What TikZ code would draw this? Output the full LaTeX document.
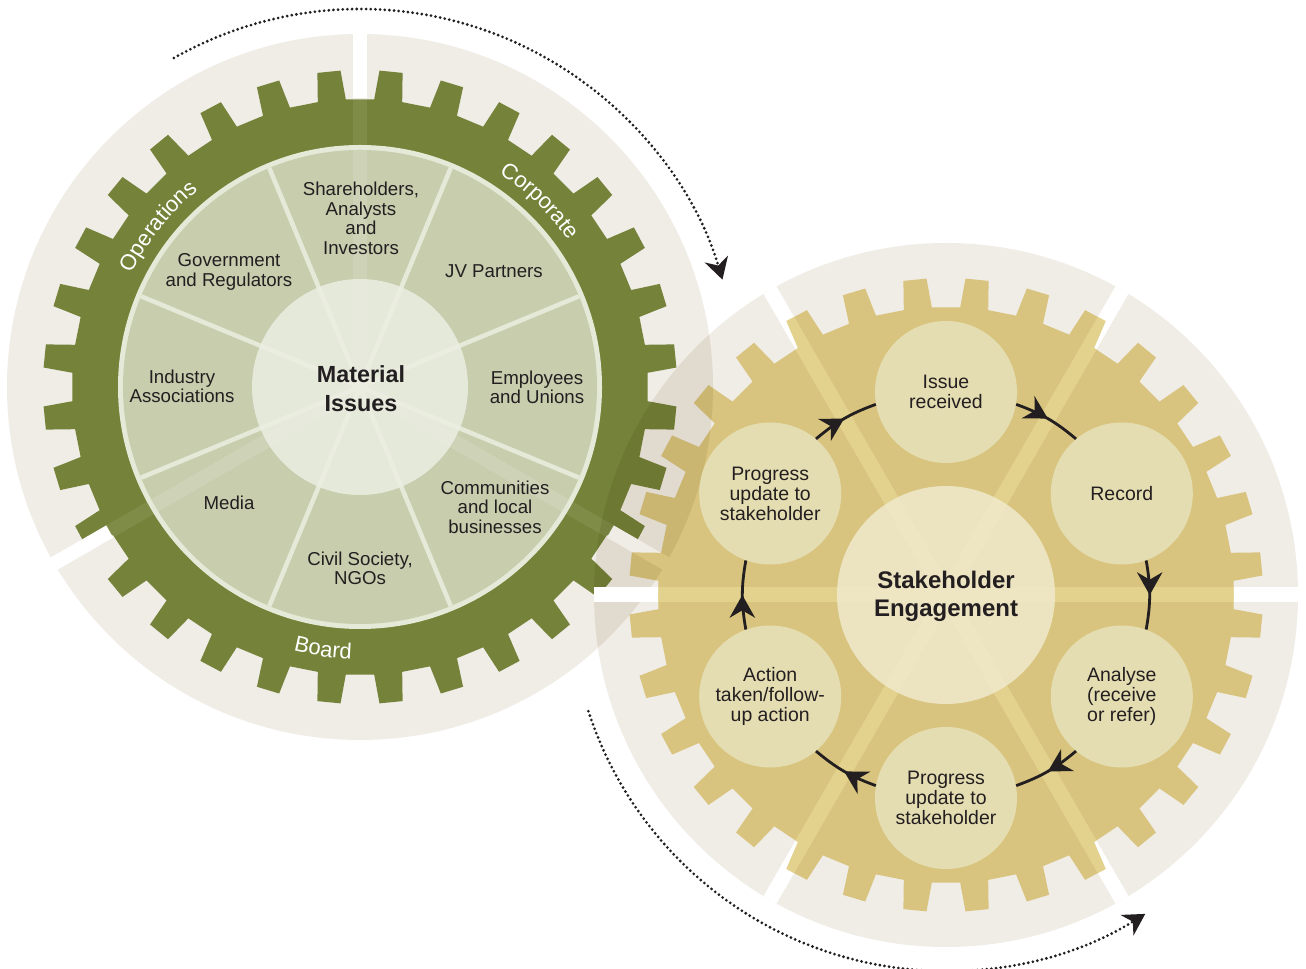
\documentclass[tikz,border=0pt]{standalone}
\usepackage{fontspec}
\setmainfont{Liberation Sans}
\usetikzlibrary{decorations.text,decorations.markings,arrows.meta}
\definecolor{ringbg}{HTML}{F0ECE6}
\definecolor{ggreen}{HTML}{748339}
\definecolor{sectorfill}{HTML}{C8CDAE}
\definecolor{sectorline}{HTML}{E5E9D8}
\definecolor{mcenter}{HTML}{EBEEE2}
\definecolor{ggoldm}{HTML}{E6D48C}
\definecolor{goldband}{HTML}{E3D18E}
\definecolor{scirc}{HTML}{E5DDB2}
\definecolor{secenter}{HTML}{F0E9CD}
\definecolor{ink}{HTML}{231F20}
\newcommand{\ringfont}{\fontsize{16.5}{19}\selectfont}
\def\gearP{(2.825:288) \foreach \k in {0,...,31}{ -- ({5.625+11.25*\k-2.8}:288) -- ({5.625+11.25*\k-2.1}:317) -- ({5.625+11.25*\k+2.1}:317) -- ({5.625+11.25*\k+2.8}:288)} -- cycle}
\tikzset{
  lbl/.style={align=center, text=ink, font=\fontsize{14}{14.6}\selectfont, inner sep=0pt},
  hub/.style={align=center, text=ink, font=\bfseries\fontsize{17.5}{21.7}\selectfont, inner sep=0pt},
  hubtwo/.style={align=center, text=ink, font=\bfseries\fontsize{18}{20.8}\selectfont, inner sep=0pt},
  stagecirc/.style={circle, fill=scirc, minimum size=106.5pt, inner sep=0pt, align=center, text=ink, font=\fontsize{14.6}{15}\selectfont},
  cyc/.style={draw=ink, line width=2.1pt, postaction={decorate}, decoration={markings, mark=at position 0.5 with {\arrow{Stealth[length=17pt,width=19pt,inset=5.5pt]}}}},
  dotarc/.style={draw=ink, line width=2.3pt, dash pattern=on 0pt off 3.5pt, line cap=round},
  ringtxt/.style={decorate, decoration={text along path, text align=center, text color=white, text={|\ringfont|#1}}},
}
\begin{document}
\begin{tikzpicture}[x=0.75pt,y=0.75pt]
\useasboundingbox (0,0) rectangle (1306,968);
% ---------------- left gear ----------------
\begin{scope}[shift={(360,581)}]
  \fill[ringbg] (0,0) circle (353);
  \fill[ggreen] \gearP;
  \foreach \a in {90,210,330} \fill[white,opacity=0.08,rotate=\a] (0,-7) rectangle (300,7);
  \fill[sectorline] (0,0) circle (242);
  \fill[sectorfill] (0,0) circle (237);
  \foreach \a in {90,210,330} \fill[white,opacity=0.12,rotate=\a] (0,-7) rectangle (237,7);
  \foreach \a in {22.5,67.5,...,337.5} \draw[sectorline,line width=3.4pt] (0,0) -- (\a:237);
  \fill[mcenter,opacity=0.85] (0,0) circle (108);
  \foreach \a in {90,210,330} \fill[white,rotate=\a] (289,-7) rectangle (357,7);
  \path[ringtxt=Operations] (170:255) arc[start angle=170, end angle=113, radius=255];
  \path[ringtxt=Corporate] (75:255) arc[start angle=75, end angle=17, radius=255];
  \path[ringtxt=Board] (233:272) arc[start angle=233, end angle=291, radius=272];
\end{scope}
% ---------------- right gear ----------------
\begin{scope}[shift={(946,373)}]
  \begin{scope}[blend mode=multiply]
    \fill[ringbg] (0,0) circle (352);
  \end{scope}
  \begin{scope}
    \clip (0,0) circle (352);
    \foreach \a in {0,60,120} \fill[white,rotate=\a] (-360,-7.5) rectangle (360,7.5);
  \end{scope}
  \begin{scope}[blend mode=multiply]
    \fill[ggoldm] \gearP;
  \end{scope}
  \begin{scope}
    \clip \gearP;
    \foreach \a in {0,60,120} \fill[goldband,rotate=\a] (-360,-7.5) rectangle (360,7.5);
  \end{scope}
  \fill[secenter,opacity=0.85] (0,0) circle (109);
  \node[hubtwo] (se) at (0,-1.5) {Stakeholder\\Engagement};
  \node[stagecirc] (ir)  at (90:203)  {Issue\\received};
  \node[stagecirc] (rec) at (30:203)  {Record};
  \node[stagecirc] (ana) at (-30:203) {Analyse\\(receive\\or refer)};
  \node[stagecirc] (pub) at (-90:203) {Progress\\update to\\stakeholder};
  \node[stagecirc] (act) at (-150:203) {Action\\taken/follow-\\up action};
  \node[stagecirc] (put) at (150:203) {Progress\\update to\\stakeholder};
\end{scope}
\draw[cyc] (put.50) to[out=40,in=200] (ir.190);
\draw[cyc] (ir.-10) to[out=-20,in=140] (rec.130);
\draw[cyc] (rec.-70) to[out=-80,in=80] (ana.70);
\draw[cyc] (ana.-130) to[out=-140,in=20] (pub.10);
\draw[cyc] (pub.170) to[out=160,in=-40] (act.-50);
\draw[cyc] (act.110) to[out=100,in=-100] (put.-110);
% ---------------- left labels ----------------
\node[hub] (mi) at (361,579.5) {Material\\Issues};
\node[lbl] (sh) at (361,749.5) {Shareholders,\\Analysts\\and\\Investors};
\node[lbl] (gov) at (229,696) {Government\\and Regulators};
\node[lbl] (jv) at (494,697) {JV Partners};
\node[lbl] (ind) at (182,581.5) {Industry\\Associations};
\node[lbl] (emp) at (537,580.5) {Employees\\and Unions};
\node[lbl] (med) at (229,465) {Media};
\node[lbl] (com) at (495,461) {Communities\\and local\\businesses};
\node[lbl] (civ) at (360,399.5) {Civil Society,\\NGOs};
% ---------------- dotted arcs ----------------
\coordinate (d1) at (173.9,910.0);
\coordinate (d2) at (588.4,256.8);
\draw[dotarc,-{Stealth[length=16pt,width=18pt,inset=5pt]}] (d1) arc[start angle=119.5, end angle=16.5, radius=378];
\draw[dotarc,-{Stealth[length=16pt,width=18pt,inset=5pt]}] (d2) arc[start angle=198, end angle=302, radius=376];
\end{tikzpicture}
\end{document}
